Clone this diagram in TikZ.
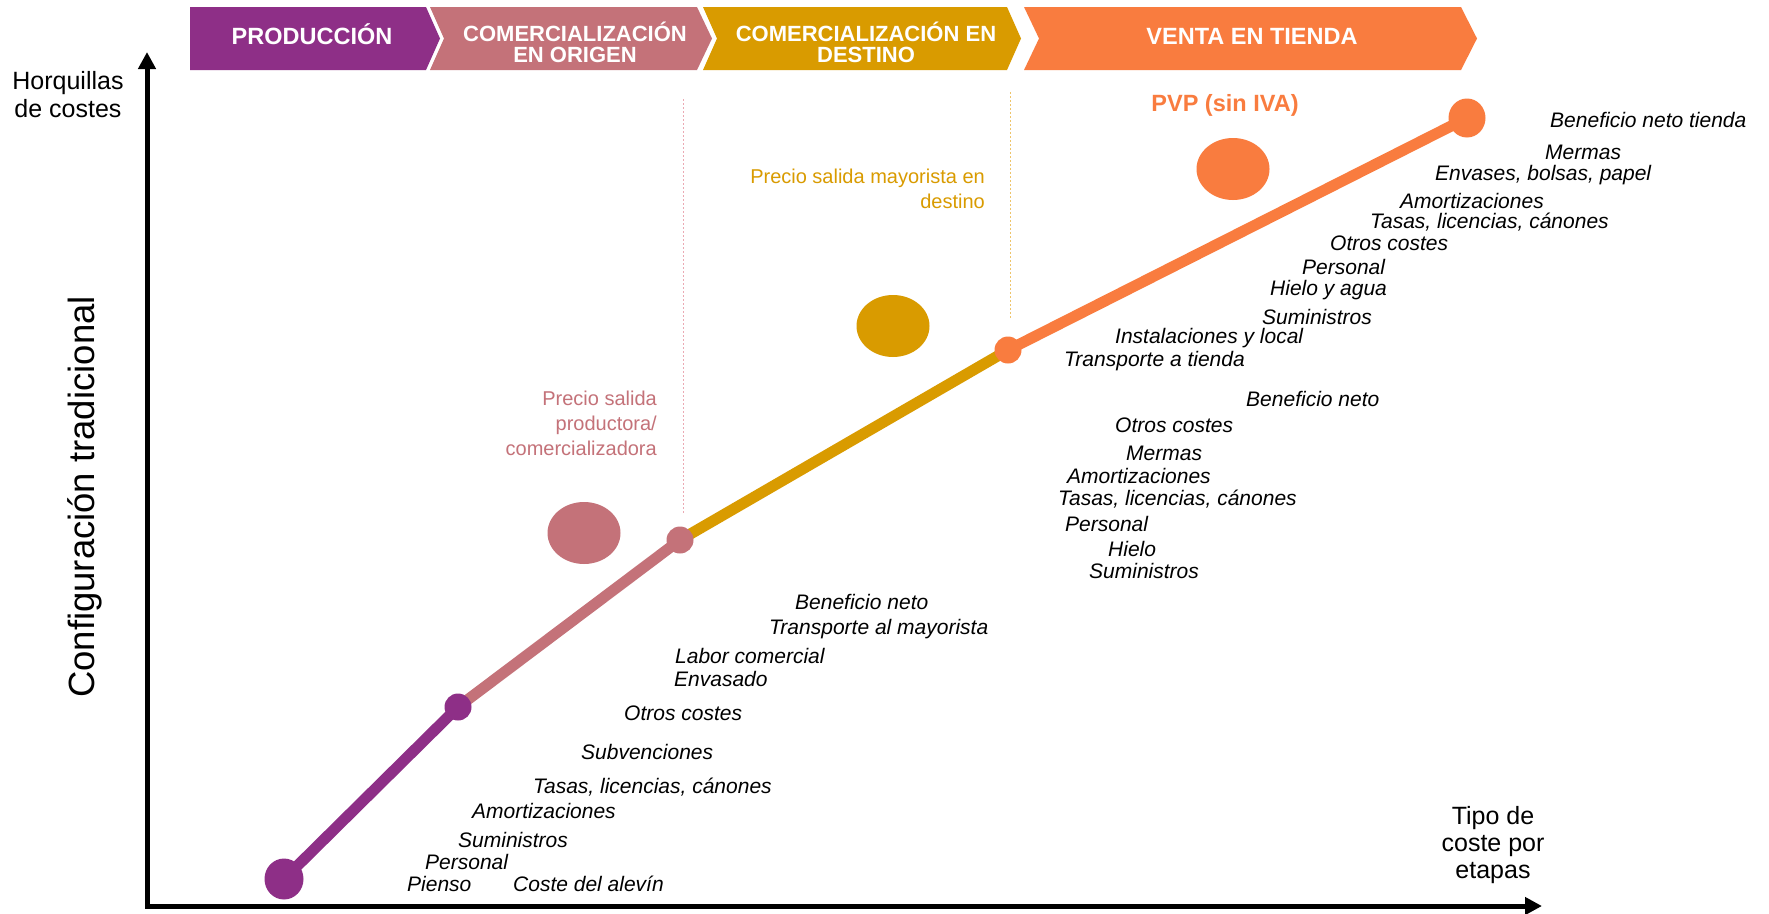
\documentclass[tikz,border=0pt]{standalone}
\usepackage{fontspec}
\setmainfont{Liberation Sans}
\usetikzlibrary{arrows.meta,shapes.geometric}
\definecolor{cprod}{HTML}{8E2F87}
\definecolor{corig}{HTML}{C47279}
\definecolor{cdest}{HTML}{D99B00}
\definecolor{cvent}{HTML}{F97C3F}
\definecolor{dotpink}{HTML}{EBA9B3}
\definecolor{dotgold}{HTML}{EEC46A}
\begin{document}
\begin{tikzpicture}[x=1pt,y=-1pt,
 lbl/.style={anchor=west,inner sep=0pt,font=\fontsize{21}{25}\selectfont\itshape},
 hdr/.style={text=white,inner sep=0pt,font=\fontsize{22}{21}\selectfont\bfseries,align=center},
 seg/.style={line width=11pt},
 dotn/.style={ellipse,inner sep=0pt,minimum width=#1,minimum height=#1},
 blob/.style={ellipse,inner sep=0pt,minimum width=73pt,minimum height=62pt},
 axisline/.style={line width=5pt,line join=miter,{Triangle[width=17pt,length=17pt]}-{Triangle[width=17pt,length=17pt]}},
 guide/.style={line width=1pt,dash pattern=on 2pt off 2pt},
 price/.style={inner sep=0pt,align=right,font=\fontsize{20}{25}\selectfont}
]
\useasboundingbox (0,0) rectangle (1769,913);
\fill[white] (0,0) rectangle (1769,913);

% header chevrons
\fill[cprod] (190,7) -- (426,7) -- (440,38.5) -- (426,70) -- (190,70) -- cycle;
\fill[corig] (430,7) -- (697,7) -- (712,38.5) -- (697,70) -- (430,70) -- (444,38.5) -- cycle;
\fill[cdest] (703,7) -- (1007,7) -- (1021,38.5) -- (1007,70) -- (703,70) -- (717,38.5) -- cycle;
\fill[cvent] (1024,7) -- (1461,7) -- (1477,38.5) -- (1461,70) -- (1024,70) -- (1039,38.5) -- cycle;
\node[hdr,font=\fontsize{23.5}{21}\selectfont\bfseries] (h1) at (312,34) {PRODUCCIÓN};
\node[hdr] (h2) at (575,42) {COMERCIALIZACIÓN\\EN ORIGEN};
\node[hdr] (h3) at (866,42) {COMERCIALIZACIÓN EN\\DESTINO};
\node[hdr,font=\fontsize{23.5}{21}\selectfont\bfseries] (h4) at (1252,36) {VENTA EN TIENDA};

% axes
\coordinate (ytip) at (147,52);
\coordinate (orig) at (147,906);
\coordinate (xtip) at (1542,906);
\draw[axisline] (ytip) -- (orig) -- (xtip);
\node[align=center,inner sep=0pt,font=\fontsize{25}{28}\selectfont] (ylab) at (68,95) {Horquillas\\de costes};
\node[rotate=90,inner sep=0pt,font=\fontsize{36.5}{40}\selectfont] (conf) at (85,497) {Configuración tradicional};
\node[align=center,inner sep=0pt,font=\fontsize{25}{27}\selectfont] (xlab) at (1493,845) {Tipo de\\coste por\\etapas};

% guide lines
\coordinate (g1a) at (683,99); \coordinate (g1b) at (683,513);
\coordinate (g2a) at (1010,92); \coordinate (g2b) at (1010,318);
\draw[guide,dotpink] (g1a) -- (g1b);
\draw[guide,dotgold] (g2a) -- (g2b);

% main line
\coordinate (p0) at (284,879);
\coordinate (p1) at (458,707);
\coordinate (p2) at (680,540);
\coordinate (p3) at (1008,350);
\coordinate (p4) at (1467,118);
\draw[seg,cprod] (p0) -- (p1);
\draw[seg,corig] (p1) -- (p2);
\draw[seg,cdest] (p2) -- (p3);
\draw[seg,cvent] (p3) -- (p4);
\node[ellipse,inner sep=0pt,minimum width=39pt,minimum height=41pt,fill=cprod] (d0) at (p0) {};
\node[dotn=27pt,fill=cprod] (d1) at (p1) {};
\node[dotn=27pt,fill=corig] (d2) at (p2) {};
\node[dotn=27pt,fill=cvent] (d3) at (p3) {};
\node[ellipse,inner sep=0pt,minimum width=37pt,minimum height=39pt,fill=cvent] (d4) at (p4) {};

% price blobs and labels
\node[blob,fill=corig] (b1) at (584,533) {};
\node[blob,fill=cdest] (b2) at (893,326) {};
\node[blob,fill=cvent] (b3) at (1233,169) {};
\node[price,text=corig,anchor=north east] (pr1) at (657,391) {Precio salida\\productora/\\comercializadora};
\node[price,text=cdest,anchor=north east] (pr2) at (985,169) {Precio salida mayorista en\\destino};
\node[inner sep=0pt,text=cvent,font=\fontsize{23.5}{26}\selectfont\bfseries] (pvp) at (1225,105) {PVP (sin IVA)};

% production costs
\node[lbl] (a1) at (407,884) {Pienso};
\node[lbl] (a2) at (513,884) {Coste del alevín};
\node[lbl] (a3) at (425,862) {Personal};
\node[lbl] (a4) at (458,840) {Suministros};
\node[lbl] (a5) at (472,811) {Amortizaciones};
\node[lbl] (a6) at (533,787) {Tasas, licencias, cánones};
\node[lbl] (a7) at (581,752) {Subvenciones};
\node[lbl] (a8) at (624,713) {Otros costes};
\node[lbl] (a9) at (674,679) {Envasado};
\node[lbl] (a10) at (675,656) {Labor comercial};
\node[lbl] (a11) at (769,629) {Transporte al mayorista};
\node[lbl] (a12) at (795,602) {Beneficio neto};

% destination costs
\node[lbl] (c1) at (1246,399) {Beneficio neto};
\node[lbl] (c2) at (1115,425) {Otros costes};
\node[lbl] (c3) at (1126,453) {Mermas};
\node[lbl] (c4) at (1067,476) {Amortizaciones};
\node[lbl] (c5) at (1058,499) {Tasas, licencias, cánones};
\node[lbl] (c6) at (1065,524) {Personal};
\node[lbl] (c7) at (1108,549) {Hielo};
\node[lbl] (c8) at (1089,571) {Suministros};

% store costs
\node[lbl] (e1) at (1550,120) {Beneficio neto tienda};
\node[lbl] (e2) at (1545,152) {Mermas};
\node[lbl] (e3) at (1435,175) {Envases, bolsas, papel};
\node[lbl] (e4) at (1400,201) {Amortizaciones};
\node[lbl] (e5) at (1370,222) {Tasas, licencias, cánones};
\node[lbl] (e6) at (1330,243) {Otros costes};
\node[lbl] (e7) at (1302,267) {Personal};
\node[lbl] (e8) at (1270,290) {Hielo y agua};
\node[lbl] (e9) at (1262,317) {Suministros};
\node[lbl] (e10) at (1115,338) {Instalaciones y local};
\node[lbl] (e11) at (1064,361) {Transporte a tienda};
\end{tikzpicture}
\end{document}
